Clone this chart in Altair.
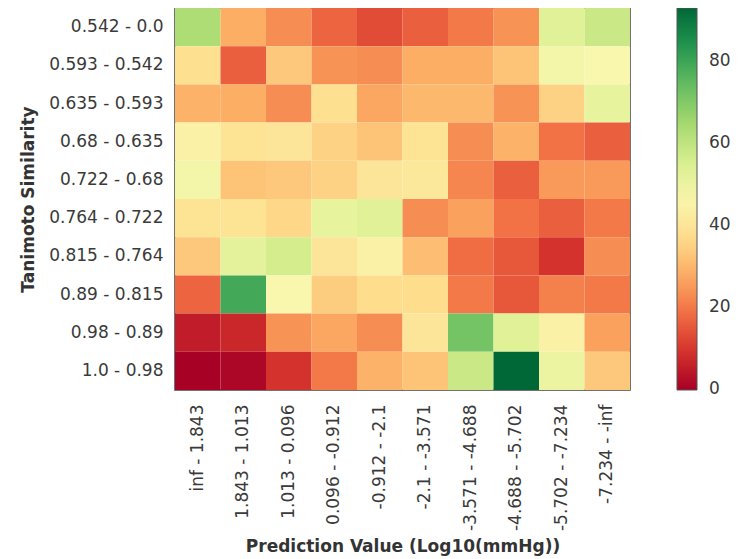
import altair as alt
import pandas as pd

sim_bins = ["0.542 - 0.0", "0.593 - 0.542", "0.635 - 0.593", "0.68 - 0.635",
            "0.722 - 0.68", "0.764 - 0.722", "0.815 - 0.764", "0.89 - 0.815",
            "0.98 - 0.89", "1.0 - 0.98"]
pred_bins = ["inf - 1.843", "1.843 - 1.013", "1.013 - 0.096", "0.096 - -0.912",
             "-0.912 - -2.1", "-2.1 - -3.571", "-3.571 - -4.688", "-4.688 - -5.702",
             "-5.702 - -7.234", "-7.234 - -inf"]

values = [
    [63, 28, 23, 17, 13, 16, 20, 24, 53, 58],
    [38, 16, 33, 24, 23, 28, 28, 32, 48, 46],
    [29, 28, 23, 38, 27, 30, 30, 24, 35, 51],
    [44, 39, 40, 35, 32, 39, 23, 29, 19, 16],
    [48, 32, 33, 35, 40, 41, 22, 16, 25, 25],
    [39, 39, 36, 51, 53, 23, 26, 19, 16, 20],
    [33, 52, 56, 40, 44, 31, 18, 15, 9, 23],
    [17, 79, 46, 34, 37, 37, 20, 15, 21, 20],
    [5, 7, 24, 27, 23, 40, 72, 53, 44, 26],
    [0, 1, 9, 20, 29, 32, 58, 93, 50, 33],
]
color_ticks = [0, 20, 40, 60, 80]

rows = []
for i, s in enumerate(sim_bins):
    for j, p in enumerate(pred_bins):
        rows.append({"sim": s, "pred": p, "value": values[i][j]})
df = pd.DataFrame(rows)

FONT = "DejaVu Sans"

chart = alt.Chart(df).mark_rect(strokeWidth=0).encode(
    x=alt.X("pred:N", sort=pred_bins,
            axis=alt.Axis(title="Prediction Value (Log10(mmHg))", labelAngle=-90,
                          ticks=False, domain=False, labelPadding=14,
                          titlePadding=8, labelFontSize=17, titleFontSize=17,
                          labelColor="#3a3a3a", titleColor="#333",
                          labelFont=FONT, titleFont=FONT, titleFontWeight="bold")),
    y=alt.Y("sim:N", sort=sim_bins,
            axis=alt.Axis(title="Tanimoto Similarity", ticks=False, domain=False,
                          labelPadding=12, titlePadding=11, labelFontSize=17,
                          titleFontSize=17, labelColor="#3a3a3a", titleColor="#333",
                          labelFont=FONT, titleFont=FONT, titleFontWeight="bold")),
    color=alt.Color("value:Q",
                    scale=alt.Scale(scheme="redyellowgreen", domain=[-0.3, 93]),
                    legend=alt.Legend(title=None, values=color_ticks,
                                      gradientLength=382, gradientThickness=20,
                                      gradientStrokeColor="#555",
                                      gradientStrokeWidth=1,
                                      labelFontSize=17, labelColor="#3a3a3a",
                                      labelFont=FONT, labelOffset=12,
                                      labelBaseline="middle",
                                      offset=47, direction="vertical")),
).properties(
    width=455, height=382,
    autosize=alt.AutoSizeParams(type="none"),
    padding={"left": 167, "top": 0, "right": 105, "bottom": 169},
).configure_view(
    stroke="#444", strokeWidth=1.5
)

chart.save("out.html", embed_options={"renderer": "svg", "actions": False})
